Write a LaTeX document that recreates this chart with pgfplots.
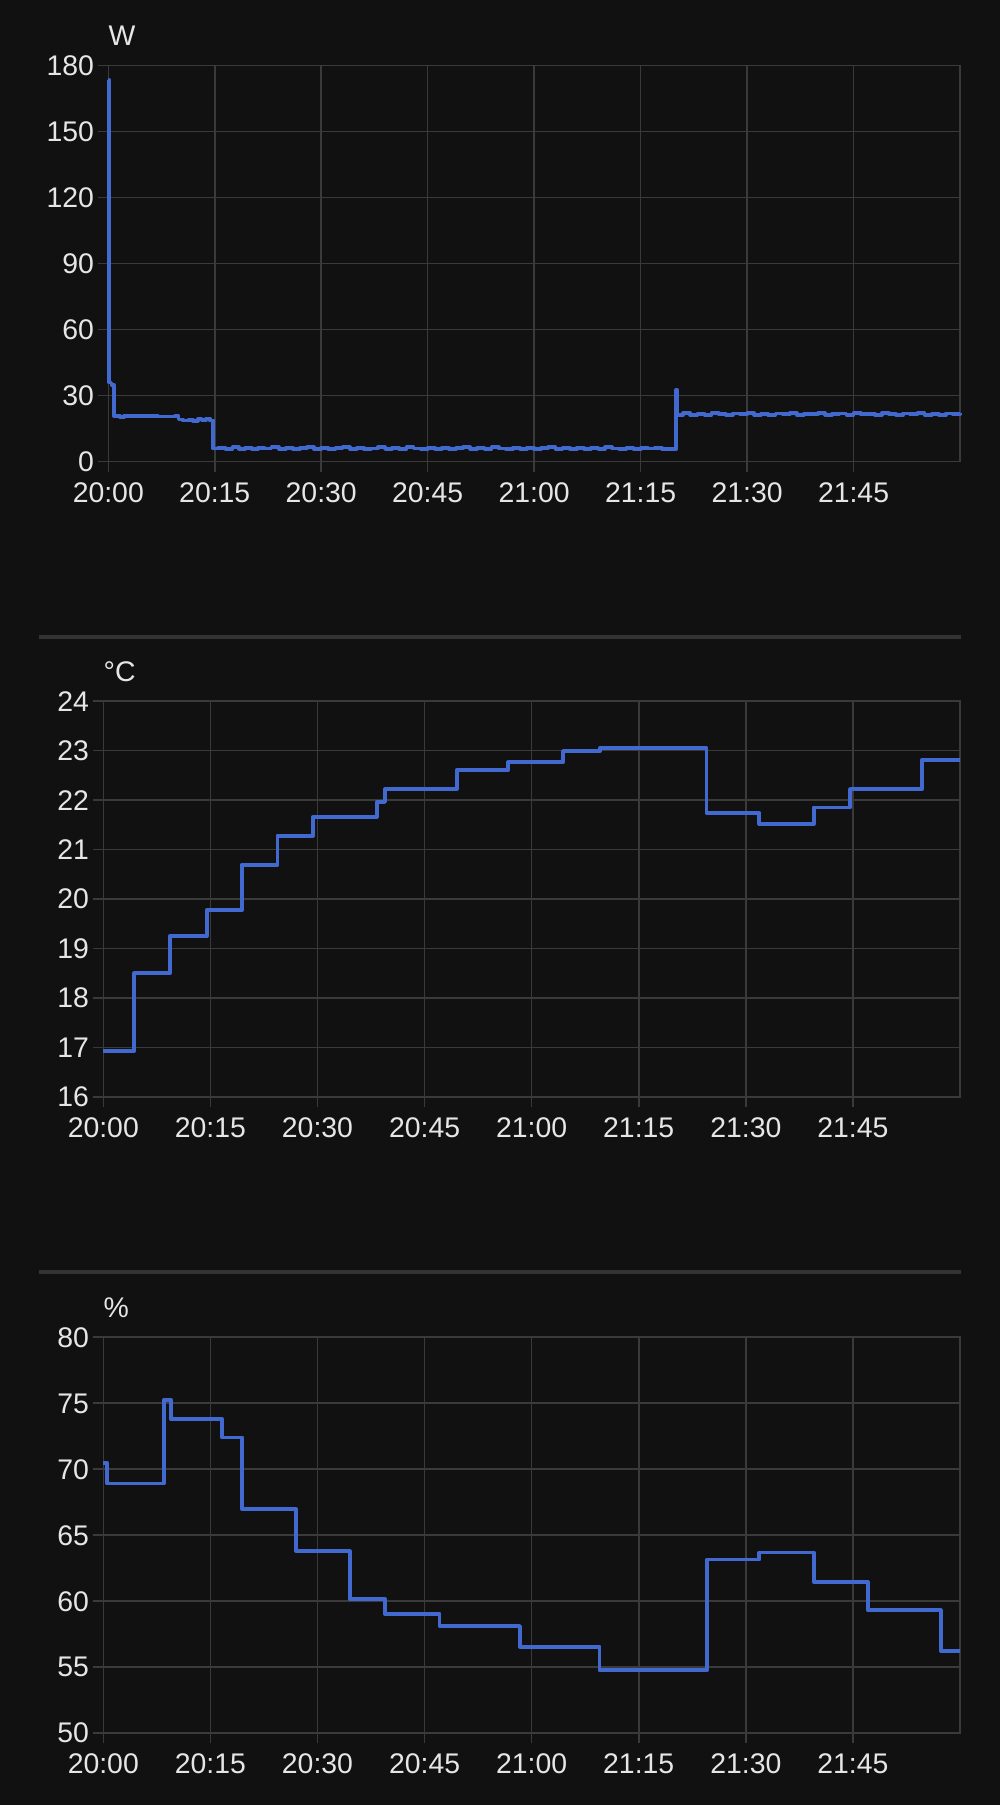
\documentclass[border=0pt]{standalone}
\usepackage{fontspec}
\setmainfont{Liberation Sans}
\usepackage{pgfplots}
\pgfplotsset{compat=1.18}
\definecolor{bgc}{HTML}{111111}
\definecolor{gridc}{HTML}{3A3A3A}
\definecolor{sepc}{HTML}{333333}
\definecolor{txtc}{HTML}{E6E6E6}
\definecolor{linec}{HTML}{4269D0}
\newcommand\tfont{\fontsize{14.2bp}{16bp}\selectfont}
\pgfplotsset{
  hachart/.style={
    scale only axis, anchor=south west,
    xmin=0, xmax=120,
    xtick={0,15,30,45,60,75,90,105},
    xticklabels={20:00,20:15,20:30,20:45,21:00,21:15,21:30,21:45},
    grid=major,
    major grid style={draw=gridc, line width=0.8bp},
    axis line style={draw=gridc, line width=0.8bp},
    tick style={draw=gridc, line width=0.8bp},
    tick align=outside, major tick length=5bp, tick pos=left,
    /pgf/number format/assume math mode=true,
    scaled y ticks=false,
    xticklabel style={font=\tfont, text=txtc, anchor=base, inner sep=0pt, yshift=-15.3bp},
    yticklabel style={font=\tfont, text=txtc, anchor=base east, inner sep=0pt, xshift=-2bp, yshift=-5bp},
    clip=false,
  },
  haline/.style={const plot, draw=linec, line width=1.9bp, line join=round, no marks},
}
\begin{document}
\begin{tikzpicture}
\fill[bgc] (0,0) rectangle (500bp,902.5bp);
\draw[sepc, line width=2bp] (19.5bp,584.15bp) -- (480.5bp,584.15bp);
\draw[sepc, line width=2bp] (19.5bp,266.25bp) -- (480.5bp,266.25bp);

% ---------- Power (W) ----------
\begin{axis}[hachart, at={(54.15bp,671.65bp)}, width=425.85bp, height=198bp,
  ymin=0, ymax=180, ytick={0,30,60,90,120,150,180}]
\addplot[haline] coordinates {
(0,173.5) (0.12,36) (0.45,35) (0.75,20.8) (1.6,20.2) (2.2,20.7) (3.5,20.6) (5,20.6) (7,20.5) (9.4,20.6)
(9.9,19.2) (10.5,18.7) (11.3,19.1) (11.9,18.6) (12.6,19.4) (13.2,18.9) (13.8,19.6) (14.3,18.7)
(14.8,6.0) (15.5,6.4) (16.5,5.8) (17.5,6.5) (18.4,5.8) (19.3,6.2) (20.2,5.7) (21.1,6.4) (22,6.0) (23,6.6)
(24,5.9) (25,6.3) (26,5.7) (27,6.1) (28,6.5) (29,5.8) (30,6.4) (31,5.8) (32,6.2) (33,6.5) (34,5.9)
(35,6.3) (36,5.7) (37,6.0) (38,6.5) (39,5.8) (40,6.2) (41,5.7) (42,6.5) (43,6.0) (44,5.8) (45,6.4)
(46,5.9) (47,6.3) (48,5.7) (49,6.1) (50,6.5) (51,5.8) (52,6.2) (53,5.8) (54,6.5) (55,6.0) (56,5.7)
(57,6.3) (58,5.9) (59,6.4) (60,5.8) (61,6.1) (62,6.5) (63,5.8) (64,6.2) (65,5.7) (66,6.4) (67,5.9)
(68,6.3) (69,5.8) (70,6.5) (71,6.0) (72,5.8) (73,6.4) (74,5.7) (75,6.2) (76,6.0) (77,6.4) (78,5.8) (79,5.6)
(80,32.6) (80.15,21.3) (81,22.0) (82,21.4) (83,21.8) (84,21.3) (85,22.0) (86,21.6) (87,21.3) (88,21.9)
(89,21.5) (90,22.1) (91,21.4) (92,21.7) (93,21.2) (94,21.9) (95,21.6) (96,22.0) (97,21.3) (98,21.8)
(99,21.5) (100,22.0) (101,21.3) (102,21.7) (103,21.9) (104,21.4) (105,22.0) (106,21.5) (107,21.8)
(108,21.3) (109,22.0) (110,21.6) (111,21.3) (112,21.9) (113,21.5) (114,22.1) (115,21.4) (116,21.7)
(117,21.2) (118,21.9) (119,21.6) (120,22.0)
};
\node[anchor=base west, inner sep=0pt, font=\tfont, text=txtc, yshift=10bp] at (rel axis cs:0,1) {W};
\end{axis}

% ---------- Temperature ----------
\begin{axis}[hachart, at={(51.65bp,354bp)}, width=428.35bp, height=198bp,
  ymin=16, ymax=24, ytick={16,17,18,19,20,21,22,23,24}]
\addplot[haline] coordinates {
(0,16.93) (4.34,18.50) (9.34,19.25) (14.48,19.77) (19.38,20.69) (24.4,21.28) (29.4,21.66)
(38.3,21.96) (39.45,22.22) (49.5,22.60) (56.7,22.76) (64.4,22.99) (69.6,23.05) (84.5,21.74)
(91.9,21.51) (99.5,21.85) (104.6,22.22) (114.7,22.81) (120,22.81)
};
\node[anchor=base west, inner sep=0pt, font=\tfont, text=txtc, yshift=9.75bp] at (rel axis cs:0,1) {°C};
\end{axis}

% ---------- Humidity ----------
\begin{axis}[hachart, at={(51.65bp,36bp)}, width=428.35bp, height=198bp,
  ymin=50, ymax=80, ytick={50,55,60,65,70,75,80}]
\addplot[haline] coordinates {
(0,70.43) (0.56,68.9) (8.5,75.25) (9.44,73.78) (16.67,72.39) (19.47,66.94) (27.0,63.78)
(34.5,60.16) (39.45,59.03) (47.1,58.1) (58.36,56.54) (69.5,54.75) (84.6,63.14) (91.9,63.67)
(99.5,61.45) (107.1,59.3) (117.3,56.22) (120,56.22)
};
\node[anchor=base west, inner sep=0pt, font=\tfont, text=txtc, yshift=9.75bp] at (rel axis cs:0,1) {\%};
\end{axis}
\pgfresetboundingbox
\path[use as bounding box] (0,0) rectangle (500bp,902.5bp);
\end{tikzpicture}
\end{document}
